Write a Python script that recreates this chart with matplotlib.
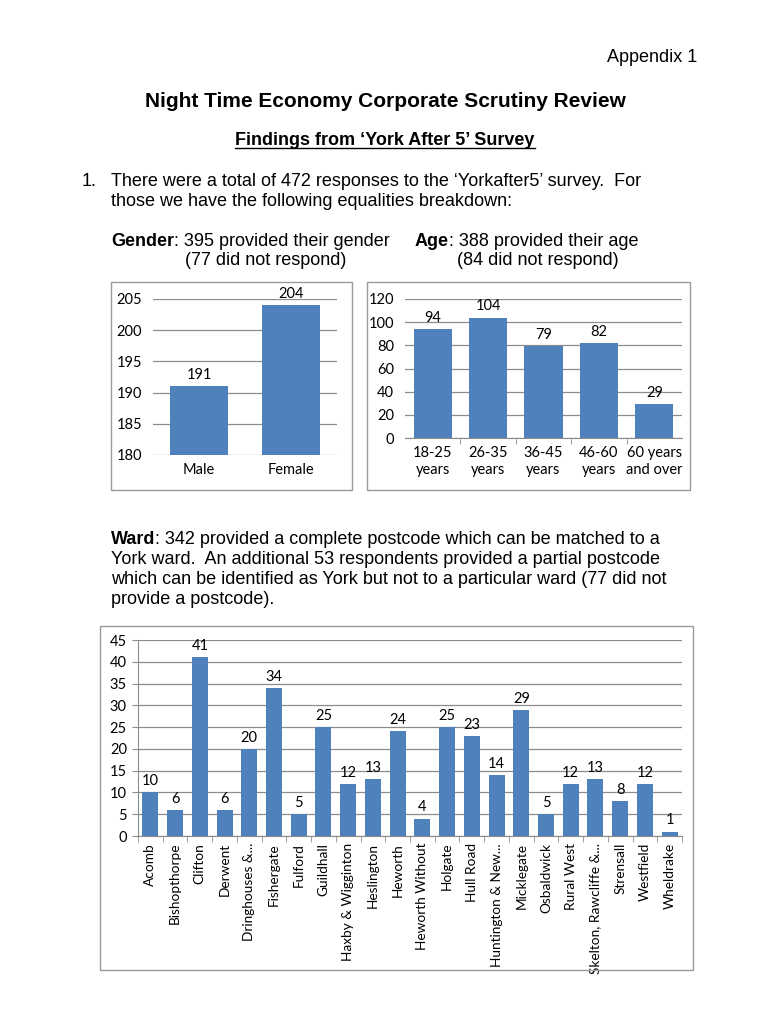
import matplotlib.pyplot as plt
from matplotlib.patches import Rectangle
from matplotlib.lines import Line2D

W, H = 770, 1024

gender_labels = ["Male", "Female"]
gender_counts = [191, 204]

age_labels = ["18-25\nyears", "26-35\nyears", "36-45\nyears", "46-60\nyears", "60 years\nand over"]
age_counts = [94, 104, 79, 82, 29]

ward_labels = [
    "Acomb", "Bishopthorpe", "Clifton", "Derwent", "Dringhouses &...",
    "Fishergate", "Fulford", "Guildhall", "Haxby & Wigginton", "Heslington",
    "Heworth", "Heworth Without", "Holgate", "Hull Road", "Huntington & New...",
    "Micklegate", "Osbaldwick", "Rural West", "Skelton, Rawcliffe &...",
    "Strensall", "Westfield", "Wheldrake",
]
ward_counts = [10, 6, 41, 6, 20, 34, 5, 25, 12, 13, 24, 4, 25, 23, 14, 29, 5, 12, 13, 8, 12, 1]

BAR = "#4f81bd"
GRID = "#8c8c8c"
BODY = "Liberation Sans"
CHART = "Lato"

fig = plt.figure(figsize=(W / 100, H / 100), dpi=100)
renderer = fig.canvas.get_renderer()


def fy(y):
    return 1 - y / H


def put(x, y, s, **kw):
    kw.setdefault("family", BODY)
    kw.setdefault("fontsize", 13)
    return fig.text(x / W, fy(y), s, va="baseline", **kw)


def put_bold_lead(x, y, lead, rest):
    t = put(x, y, lead, weight="bold")
    bb = t.get_window_extent(renderer)
    put(bb.x1, y, rest)


def frame(x0, y0, x1, y1):
    fig.add_artist(Rectangle((x0 / W, fy(y1)), (x1 - x0) / W, (y1 - y0) / H,
                             transform=fig.transFigure, fill=False,
                             edgecolor="#9a9a9a", lw=1.0))


def chart_axes(left, top, right, bottom):
    ax = fig.add_axes([left / W, fy(bottom), (right - left) / W, (bottom - top) / H])
    ax.set_facecolor("none")
    for s in ax.spines.values():
        s.set_visible(False)
    ax.set_axisbelow(True)
    ax.yaxis.grid(True, color=GRID, lw=0.9)
    ax.tick_params(axis="y", length=0, labelsize=10.5, pad=8)
    ax.tick_params(axis="x", length=0, labelsize=10.5)
    return ax


def finish(ax, bars):
    ax.bar_label(bars, padding=3, fontsize=10.5, family=CHART)
    for lab in ax.get_yticklabels() + ax.get_xticklabels():
        lab.set_family(CHART)


# ---- page text ----
put(697, 62, "Appendix 1", ha="right")
put(385, 107, "Night Time Economy Corporate Scrutiny Review", ha="center",
    weight="bold", fontsize=15)
sub = put(385, 145, "Findings from \u2018York After 5\u2019 Survey", ha="center",
          weight="bold", fontsize=13)
bb = sub.get_window_extent(renderer)
fig.add_artist(Line2D([bb.x0 / W, bb.x1 / W], [fy(148), fy(148)], color="black", lw=1))

put(82, 186, "1.")
put(111, 186, "There were a total of 472 responses to the \u2018Yorkafter5\u2019 survey.  For")
put(111, 206, "those we have the following equalities breakdown:")

put_bold_lead(111, 246, "Gender", ": 395 provided their gender")
put(185, 265, "(77 did not respond)")
put_bold_lead(415, 246, "Age", ": 388 provided their age")
put(457, 265, "(84 did not respond)")

put_bold_lead(111, 544, "Ward", ": 342 provided a complete postcode which can be matched to a")
put(111, 564, "York ward.  An additional 53 respondents provided a partial postcode")
put(111, 584, "which can be identified as York but not to a particular ward (77 did not")
put(111, 604, "provide a postcode).")

# ---- gender chart ----
frame(111, 282, 352, 490)
ax1 = chart_axes(153, 299, 337, 455)
b1 = ax1.bar(range(len(gender_labels)), gender_counts, width=0.63, color=BAR)
ax1.set_xlim(-0.5, len(gender_labels) - 0.5)
ax1.set_ylim(180, 205)
ax1.set_yticks(range(180, 206, 5))
ax1.set_xticks(range(len(gender_labels)), gender_labels)
ax1.tick_params(axis="x", pad=6)
finish(ax1, b1)

# ---- age chart ----
frame(367, 282, 690, 490)
ax2 = chart_axes(405, 299, 682, 438)
b2 = ax2.bar(range(len(age_labels)), age_counts, width=0.69, color=BAR)
ax2.set_xlim(-0.5, len(age_labels) - 0.5)
ax2.set_ylim(0, 120)
ax2.set_yticks(range(0, 121, 20))
ax2.set_xticks(range(len(age_labels)), age_labels)
ax2.spines["bottom"].set_visible(True)
ax2.spines["bottom"].set_color(GRID)
ax2.set_xticks([i + 0.5 for i in range(len(age_labels) - 1)], minor=True)
ax2.tick_params(axis="x", which="minor", length=4, color=GRID)
ax2.tick_params(axis="x", pad=6)
finish(ax2, b2)

# ---- ward chart ----
frame(100, 626, 693, 970)
ax3 = chart_axes(138, 640, 682, 836)
b3 = ax3.bar(range(len(ward_labels)), ward_counts, width=0.65, color=BAR)
ax3.set_xlim(-0.5, len(ward_labels) - 0.5)
ax3.set_ylim(0, 45)
ax3.set_yticks(range(0, 46, 5))
ax3.set_xticks(range(len(ward_labels)), ward_labels, rotation=90)
ax3.spines["bottom"].set_visible(True)
ax3.spines["bottom"].set_color(GRID)
ax3.spines["left"].set_visible(True)
ax3.spines["left"].set_color(GRID)
ax3.set_xticks([i + 0.5 for i in range(len(ward_labels))] + [-0.5], minor=True)
ax3.tick_params(axis="x", which="minor", length=4, color=GRID)
ax3.tick_params(axis="y", length=4, color=GRID, pad=4)
ax3.tick_params(axis="x", pad=5, labelsize=9.8)
finish(ax3, b3)

fig.savefig("out.png", dpi=100, facecolor="white")
